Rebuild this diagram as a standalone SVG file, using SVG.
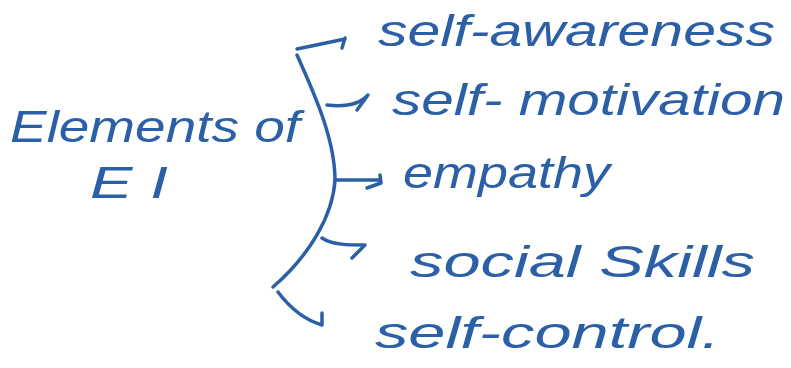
<svg xmlns="http://www.w3.org/2000/svg" width="791" height="368" viewBox="0 0 791 368">
<style>
.t{font-family:"Liberation Sans",Arial,sans-serif;font-size:44px;fill:#2b5fa6;font-style:italic}
.c{fill:none;stroke:#2b5fa6;stroke-width:3.5;stroke-linecap:round;stroke-linejoin:round}
</style>
<rect width="791" height="368" fill="#ffffff"/>
<g id="root">
<text class="t" x="10" y="142" textLength="290" lengthAdjust="spacingAndGlyphs">Elements of</text>
<text class="t" x="90" y="198" textLength="78" lengthAdjust="spacingAndGlyphs">E I</text>
</g>
<g id="connectors">
<path class="c" d="M297,55 C315,95 335,140 335,180 C333,215 310,255 273,287"/>
<path class="c" d="M297,49 L345,39 M345,38 L342,48"/>
<path class="c" d="M327,105 C345,107 360,104 368,95 L357,110"/>
<path class="c" d="M335,180 L380,180 M380,175 L381,183 L367,188"/>
<path class="c" d="M322,238 C332,245 350,245 365,245 L352,258"/>
<path class="c" d="M278,292 C290,308 305,320 322,325 L322,313"/>
</g>
<g id="n1"><text class="t" x="378" y="46" textLength="397" lengthAdjust="spacingAndGlyphs">self-awareness</text></g>
<g id="n2"><text class="t" x="392" y="115" textLength="393" lengthAdjust="spacingAndGlyphs">self- motivation</text></g>
<g id="n3"><text class="t" x="403" y="188" textLength="207" lengthAdjust="spacingAndGlyphs">empathy</text></g>
<g id="n4"><text class="t" x="410" y="277" textLength="345" lengthAdjust="spacingAndGlyphs">social Skills</text></g>
<g id="n5"><text class="t" x="375" y="348" textLength="345" lengthAdjust="spacingAndGlyphs">self-control.</text></g>
</svg>
